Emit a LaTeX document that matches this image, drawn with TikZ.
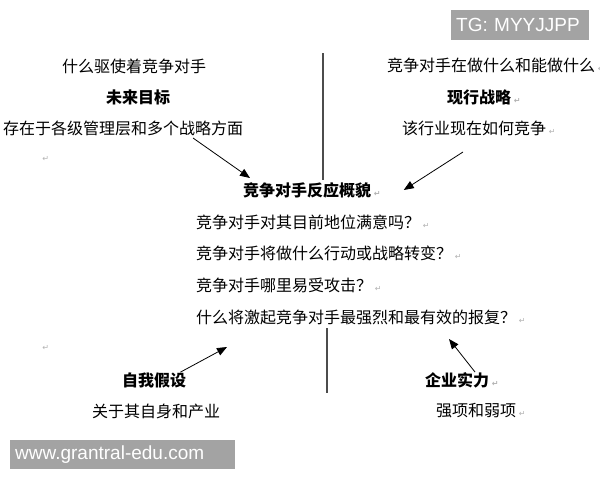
\documentclass[tikz,border=0pt]{standalone}
\usepackage{fontspec}
\usepackage{tikz}
\usetikzlibrary{arrows.meta}
\setmainfont{Noto Sans CJK SC}
\newfontfamily\symfont{DejaVu Sans}
\newfontfamily\wmfont{Liberation Sans}
\definecolor{wmgray}{RGB}{163, 163, 163}
\newcommand{\pmark}{\,{\symfont\fontsize{8}{8}\selectfont\color{gray!60}↵}}
\tikzset{
  txt/.style = {anchor = west, inner sep = 0pt, font = \fontsize{16}{16}\selectfont},
  head/.style = {txt, font = \fontsize{16}{16}\selectfont\bfseries},
  arr/.style = {-{Triangle[length = 10pt, width = 8pt]}, line width = 0.8pt},
  sep/.style = {line width = 1.4pt, color = black!70},
  wm/.style = {anchor = west, fill = wmgray, text = white, inner xsep = 5pt,
    align = left, font = \wmfont\fontsize{19}{19}\selectfont}
}

\begin{document}
\begin{tikzpicture}[x = 1pt, y = -1pt]
\useasboundingbox (0, 0) rectangle (600, 480);
% future goals
\node (drive) at (62, 66) [txt] {什么驱使着竞争对手};
\node (goal) at (106, 97) [head] {未来目标};
\node (goalnote) at (3, 128) [txt] {存在于各级管理层和多个战略方面};
\node (markA) at (45, 159) [inner sep = 0pt] {\pmark};
% current strategy
\node (doing) at (387, 65) [txt] {竞争对手在做什么和能做什么\pmark};
\node (strategy) at (447, 97) [head] {现行战略\pmark};
\node (industry) at (402, 128) [txt] {该行业现在如何竞争\pmark};
% response profile
\node (profile) at (243, 190) [head] {竞争对手反应概貌\pmark};
\node (qa) at (196, 222) [txt] {竞争对手对其目前地位满意吗？\pmark};
\node (qb) at (196, 253) [txt] {竞争对手将做什么行动或战略转变？\pmark};
\node (qc) at (196, 285) [txt] {竞争对手哪里易受攻击？\pmark};
\node (qd) at (196, 317) [txt] {什么将激起竞争对手最强烈和最有效的报复？\pmark};
% assumptions and capabilities
\node (markB) at (45, 348) [inner sep = 0pt] {\pmark};
\node (assume) at (122, 380) [head] {自我假设};
\node (assumenote) at (92, 411) [txt] {关于其自身和产业};
\node (power) at (425, 380) [head] {企业实力\pmark};
\node (powernote) at (436, 411) [txt] {强项和弱项\pmark};
% watermarks
\node (tg) at (451, 25) [wm, text width = 128pt, minimum height = 30pt] {TG: MYYJJPP};
\node (web) at (10, 454.5) [wm, text width = 215pt, minimum height = 29pt] {www.grantral-edu.com};
% dividers
\coordinate (topA) at (323, 53);
\coordinate (topB) at (323, 180);
\coordinate (botA) at (327, 328);
\coordinate (botB) at (327, 393);
\draw [sep] (topA) -- (topB);
\draw [sep] (botA) -- (botB);
% arrows
\coordinate (goaltail) at (193, 138);
\coordinate (inducetail) at (463, 152);
\coordinate (assumetip) at (227, 347);
\coordinate (powertip) at (449, 339);
\draw [arr] (goaltail) -- ([shift = {(7, -4)}]profile.north west);
\draw [arr] (inducetail) -- ([shift = {(23, 0)}]profile.east);
\draw [arr] ([xshift = -6pt]assume.north east) -- (assumetip);
\draw [arr] ([xshift = 50pt]power.north west) -- (powertip);
\end{tikzpicture}
\end{document}
